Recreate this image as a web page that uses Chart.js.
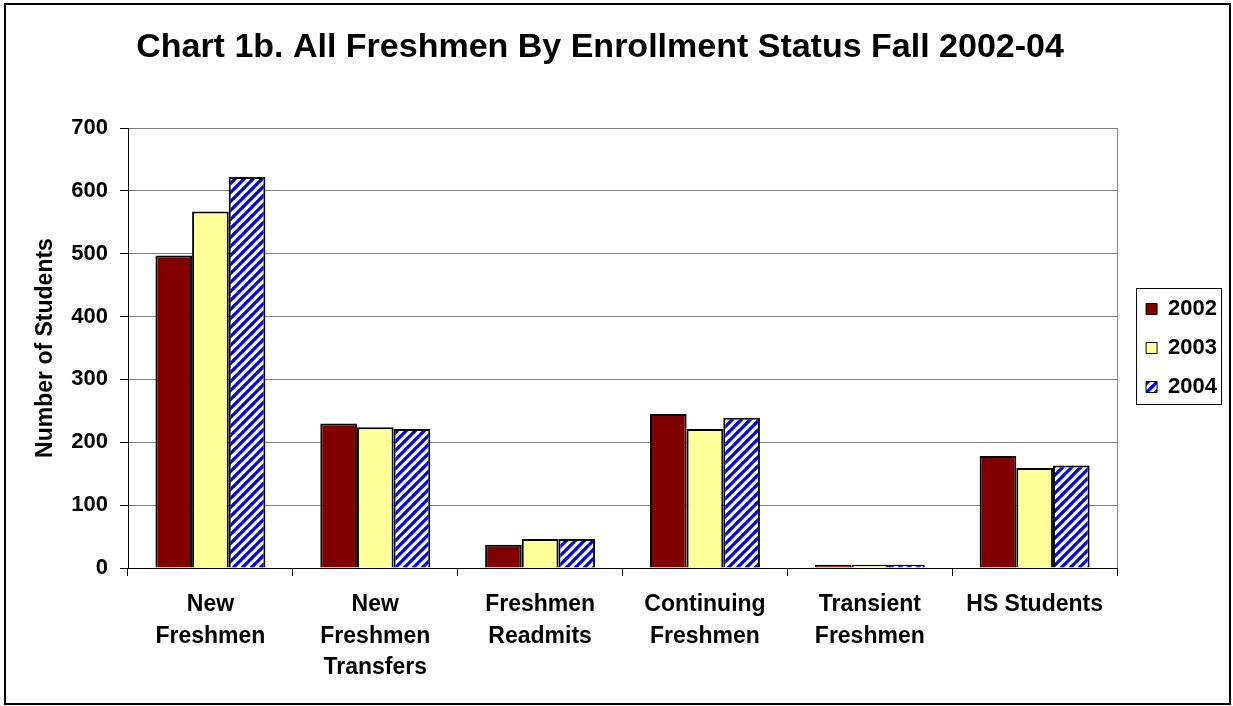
<html>
<head>
<meta charset="utf8">
<title>Chart 1b. All Freshmen By Enrollment Status Fall 2002-04</title>
<style>
  body { margin: 0; background: #fff; }
  #FreshChart { display: block; }
</style>
</head>
<body>
<canvas id="FreshChart" width="1233" height="706"></canvas>
<script src="https://cdn.jsdelivr.net/npm/chart.js@4.4.1/dist/chart.umd.min.js"></script>
<script>
var chartTitle = "Chart 1b. All Freshmen By Enrollment Status Fall 2002-04";
var categories = [
    ["New", "Freshmen"],
    ["New", "Freshmen", "Transfers"],
    ["Freshmen", "Readmits"],
    ["Continuing", "Freshmen"],
    ["Transient", "Freshmen"],
    "HS Students"
];
var years = ["2002", "2003", "2004"];
var fall2002 = [497, 230, 37, 245, 5, 178];
var fall2003 = [567, 224, 46, 221, 5, 159];
var fall2004 = [622, 221, 46, 239, 5, 163];
var yTicks = [0, 100, 200, 300, 400, 500, 600, 700];

var FONT = '"Liberation Sans", Arial, sans-serif';

// blue "/" hatching for the 2004 bars
function hatch() {
    var c = document.createElement("canvas");
    c.width = 9; c.height = 9;
    var g = c.getContext("2d");
    g.fillStyle = "#fff";
    g.fillRect(0, 0, 9, 9);
    g.strokeStyle = "#0000ff";
    g.lineWidth = 3.2;
    g.beginPath();
    g.moveTo(-1, 10); g.lineTo(10, -1);
    g.moveTo(-1, 1); g.lineTo(1, -1);
    g.moveTo(8, 10); g.lineTo(10, 8);
    g.stroke();
    return g.createPattern(c, "repeat");
}

// frame, title, plot border, legend box
var decor = {
    id: "decor",
    afterDraw: function(chart) {
        var ctx = chart.ctx, a = chart.chartArea;
        ctx.save();
        ctx.strokeStyle = "#808080";
        ctx.lineWidth = 1;
        ctx.beginPath();
        ctx.moveTo(a.right + 0.5, a.top);
        ctx.lineTo(a.right + 0.5, a.bottom);
        ctx.stroke();

        ctx.strokeStyle = "#000";
        ctx.lineWidth = 2;
        ctx.strokeRect(5, 4, 1225, 700);

        var hb = chart.legend.legendHitBoxes;
        if (hb && hb.length) {
            var first = hb[0], last = hb[hb.length - 1];
            ctx.lineWidth = 1;
            ctx.strokeRect(first.left - 9.5, first.top - 9.5,
                85, last.top + last.height - first.top + 16);
        }

        ctx.fillStyle = "#000";
        ctx.font = "bold 34px " + FONT;
        ctx.textAlign = "center";
        ctx.textBaseline = "alphabetic";
        ctx.fillText(chartTitle, 600, 57);
        ctx.restore();
    }
};

window.onload = function() {
    new Chart(document.getElementById("FreshChart"), {
        type: "bar",
        data: {
            labels: categories,
            datasets: [{
                label: years[0],
                data: fall2002,
                backgroundColor: "#800000"
            }, {
                label: years[1],
                data: fall2003,
                backgroundColor: "#ffff99"
            }, {
                label: years[2],
                data: fall2004,
                backgroundColor: hatch()
            }]
        },
        options: {
            responsive: false,
            animation: false,
            layout: { padding: { top: 128, right: 6, bottom: 0, left: 0 } },
            datasets: {
                bar: {
                    borderColor: "#000",
                    borderWidth: 2,
                    categoryPercentage: 0.667,
                    barPercentage: 1
                }
            },
            scales: {
                x: {
                    grid: { drawOnChartArea: false, drawTicks: true, tickLength: 8, color: "#000" },
                    border: { display: true, color: "#000", width: 1 },
                    ticks: {
                        color: "#000",
                        padding: 13,
                        maxRotation: 0,
                        font: { family: FONT, size: 23, weight: "bold", lineHeight: 1.37 }
                    },
                    afterFit: function(s) { s.height = 138; }
                },
                y: {
                    min: 0,
                    max: 700,
                    afterBuildTicks: function(s) {
                        s.ticks = yTicks.map(function(v) { return { value: v }; });
                    },
                    grid: { color: "#808080", tickColor: "#000", tickLength: 8 },
                    border: { display: true, color: "#000", width: 1 },
                    ticks: {
                        color: "#000",
                        padding: 12,
                        font: { family: FONT, size: 22, weight: "bold" }
                    },
                    title: {
                        display: true,
                        text: "Number of Students",
                        color: "#000",
                        padding: { top: 32, bottom: 0 },
                        font: { family: FONT, size: 23, weight: "bold", lineHeight: 1.2 }
                    },
                    afterFit: function(s) { s.width = 128; }
                },
                gap: {
                    type: "linear",
                    position: "right",
                    grid: { display: false },
                    border: { display: false },
                    ticks: { display: false },
                    afterFit: function(s) { s.width = 12; }
                }
            },
            plugins: {
                title: { display: false },
                tooltip: { enabled: false },
                legend: {
                    position: "right",
                    fullSize: false,
                    labels: {
                        color: "#000",
                        boxWidth: 11,
                        boxHeight: 11,
                        padding: 17,
                        font: { family: FONT, size: 22, weight: "bold" },
                        generateLabels: function(chart) {
                            return Chart.defaults.plugins.legend.labels.generateLabels(chart)
                                .map(function(l) { l.lineWidth = 1; return l; });
                        }
                    }
                }
            }
        },
        plugins: [decor]
    });
};
</script>
</body>
</html>
